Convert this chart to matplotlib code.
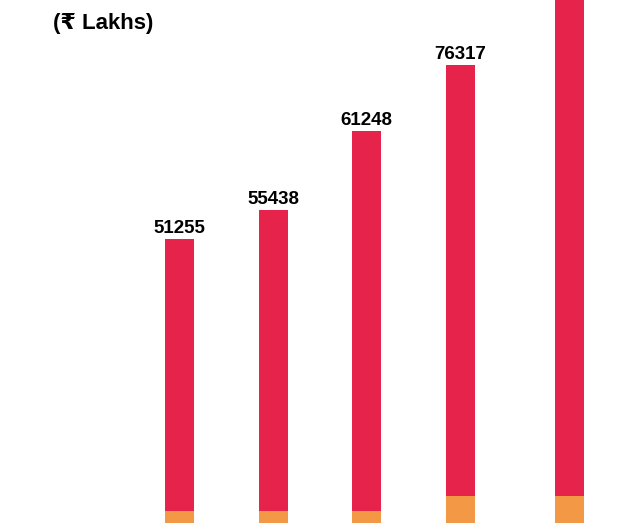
import matplotlib
matplotlib.use("Agg")
import matplotlib.pyplot as plt

# Data (₹ Lakhs)
labels = [51255, 55438, 61248, 76317]            # value labels shown above bars
orange_part = [2170, 2170, 2170, 4870, 4870]      # lower segment
totals = [51255, 56500, 70750, 82670, 98000]      # bar totals as drawn
red_part = [t - o for t, o in zip(totals, orange_part)]
positions = [0, 1, 2, 3, 4.16]

RED = "#E6234B"
ORANGE = "#F39845"
FONT = ["Liberation Sans", "DejaVu Sans"]

fig = plt.figure(figsize=(6.18, 5.23), dpi=100)
ax = fig.add_axes([0, 0, 1, 1])
width = 0.31
ax.bar(positions, orange_part, width=width, color=ORANGE, linewidth=0)
ax.bar(positions, red_part, width=width, bottom=orange_part, color=RED, linewidth=0)

for x, t, lab in zip(positions, totals, labels):
    ax.annotate(f"{lab}", xy=(x, t), xytext=(0, 4.5), textcoords="offset points",
                ha="center", va="baseline", fontsize=13.5, fontweight="bold",
                family=FONT, color="black")

ax.set_xlim(-1.916, 4.681)
ax.set_ylim(0, 94400)
ax.axis("off")

fig.text(53 / 618, 1 - 29 / 523, "(₹ Lakhs)", fontsize=16, fontweight="bold",
         family=FONT, color="black", ha="left", va="baseline")

fig.savefig("out.png", dpi=100)
